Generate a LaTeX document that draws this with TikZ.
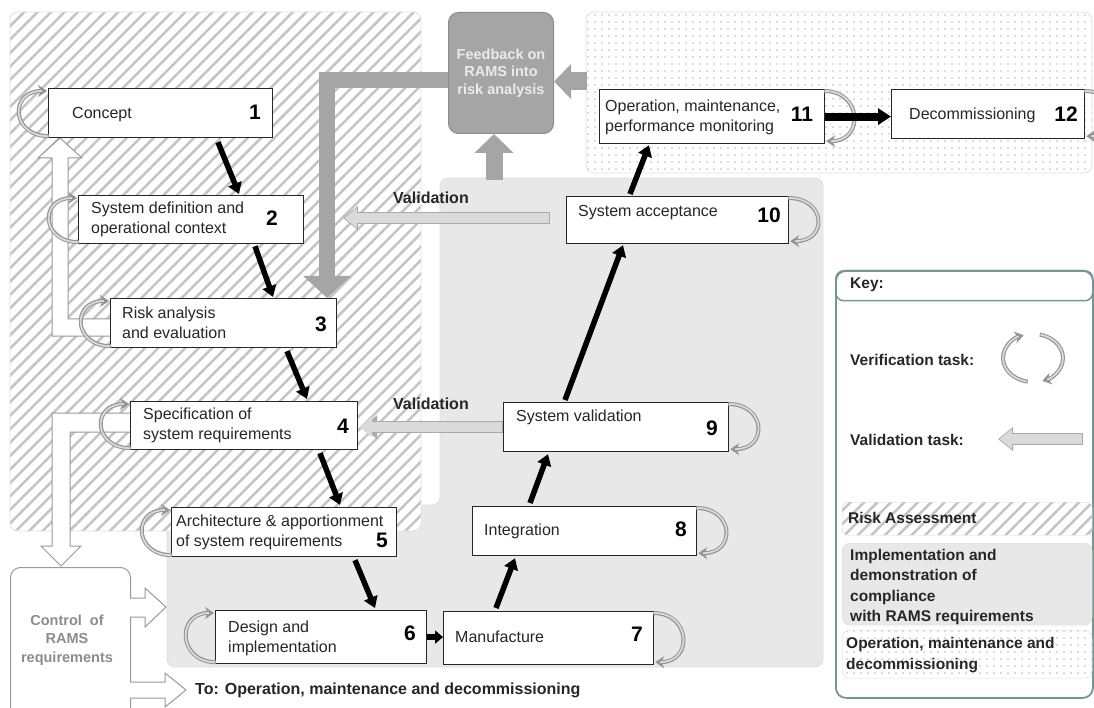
\documentclass[tikz,border=0pt]{standalone}
\usepackage{fontspec}
\setmainfont{Liberation Sans}
\usetikzlibrary{arrows.meta,patterns.meta,calc}
\definecolor{keyc}{RGB}{115,150,150}
\definecolor{fbgrey}{RGB}{165,165,165}
\definecolor{valfill}{RGB}{218,218,218}
\definecolor{valedge}{RGB}{170,170,170}
\definecolor{impgrey}{RGB}{232,232,232}
\definecolor{hatchc}{RGB}{196,196,196}
\definecolor{dotc}{RGB}{185,185,185}
\tikzset{
  box/.style={draw=black!85, line width=1.2pt, fill=white, anchor=north west, inner sep=0pt},
  txt/.style={font=\fontsize{16}{20}\selectfont, text=black!85, align=left, anchor=west, inner sep=0pt},
  num/.style={font=\fontsize{21}{24}\selectfont\bfseries, inner sep=0pt},
  lbl/.style={font=\fontsize{16}{20}\selectfont\bfseries, text=black!85, anchor=west, inner sep=0pt},
  keytxt/.style={font=\fontsize{15.5}{20.5}\selectfont\bfseries, text=black!85, anchor=west, align=left, inner sep=0pt},
  flow/.style={line width=5.5pt, -{Triangle[length=11pt,width=14pt]}},
  verifl/.style={draw=black!42, line width=4pt, -{Stealth[length=9pt,width=12pt]},
    postaction={draw=black!15, line width=1.8pt, -, shorten >=5pt, shorten <=0.8pt}},
  verifr/.style={verifl},
  val/.style={draw=valedge, line width=11.5pt, -{Triangle[length=15pt,width=23pt]},
    postaction={draw=valfill, line width=9.3pt, -{Triangle[length=12.5pt,width=19.5pt]}, shorten >=1.4pt, shorten <=1.1pt}},
  gfb/.style={draw=fbgrey, line width=16pt, -{Triangle[length=22pt,width=46pt]}},
  gfbup/.style={draw=fbgrey, line width=17pt, -{Triangle[length=19pt,width=38pt]}},
  gfbrt/.style={draw=fbgrey, line width=18pt, -{Triangle[length=17pt,width=34pt]}},
  outl/.style={draw=black!40, line width=1pt, fill=white, line join=miter},
  hatch/.style={preaction={fill=white}, pattern={Lines[angle=45,distance=9.5pt,line width=2.5pt]}, pattern color=hatchc},
  dotted region/.style={preaction={fill=white}, pattern={Dots[distance=7pt,radius=0.9pt]}, pattern color=dotc},
}
\begin{document}
\begin{tikzpicture}[x=1pt,y=-1pt]
\useasboundingbox (0,0) rectangle (1094,708);
\clip (0,0) rectangle (1094,708);
\fill[white] (0,0) rectangle (1094,708);

% ---------- regions ----------
\draw[draw=black!12, line width=0.8pt, fill=impgrey, rounded corners=8pt]
  (440,178) -- (823,178) -- (823,667) -- (167,667) -- (167,505) -- (440,505) -- cycle;
\draw[draw=black!12, line width=0.8pt, rounded corners=8pt, hatch] (10,12) rectangle (421,531);
\draw[draw=black!12, line width=0.8pt, rounded corners=8pt, dotted region] (586,12) rectangle (1092,173);

% ---------- feedback box ----------
\node[fill=fbgrey, draw=black!45, line width=1pt, rounded corners=10pt, minimum width=105pt,
  minimum height=121pt, anchor=north west, inner sep=0pt,
  font=\fontsize{14.5}{17.5}\selectfont\bfseries, text=black!8, align=center] (fb) at (448,12)
  {Feedback on\\RAMS into\\risk analysis};

% ---------- white outline arrows ----------
\draw[outl] (110,319) -- (68,319) -- (68,158) -- (82,158) -- (60,138) -- (38,158) -- (52,158) -- (52,336) -- (110,336);
\draw[outl] (130,413) -- (52,413) -- (52,546) -- (41,546) -- (61,566) -- (81,546) -- (70,546) -- (70,432) -- (130,432);

% ---------- control box ----------
\node[draw=black!40, line width=1pt, rounded corners=10pt, fill=white, minimum width=120pt,
  minimum height=165pt, anchor=north west, inner sep=0pt] (ctrl) at (10,567) {};
\node[font=\fontsize{14.5}{18.5}\selectfont\bfseries, text=black!45, align=center, inner sep=0pt] (ctrlt) at (67,640)
  {Control\ \ of\\RAMS\\requirements};
\draw[outl] (130,598) -- (145,598) -- (145,588) -- (166,607) -- (145,627) -- (145,617) -- (130,617);
\draw[outl] (130,682) -- (165,682) -- (165,673) -- (186,690) -- (165,707) -- (165,698) -- (130,698);
\node[lbl] (tolbl) at (195,690) {To: Operation, maintenance and decommissioning};

% ---------- boxes ----------
\node[box, minimum width=224pt, minimum height=49pt] (b1) at (48,88) {};
\node[box, minimum width=225pt, minimum height=48pt] (b2) at (78,195) {};
\node[box, minimum width=226pt, minimum height=49pt] (b3) at (110,298) {};
\node[box, minimum width=227pt, minimum height=48pt] (b4) at (130,401) {};
\node[box, minimum width=225pt, minimum height=49pt] (b5) at (171,507) {};
\node[box, minimum width=211pt, minimum height=53pt] (b6) at (215,610) {};
\node[box, minimum width=210pt, minimum height=53pt] (b7) at (443,611) {};
\node[box, minimum width=224pt, minimum height=49pt] (b8) at (472,506) {};
\node[box, minimum width=225pt, minimum height=49pt] (b9) at (503,402) {};
\node[box, minimum width=222pt, minimum height=47pt] (b10) at (566,196) {};
\node[box, minimum width=225pt, minimum height=54pt] (b11) at (599,89) {};
\node[box, minimum width=193pt, minimum height=49pt] (b12) at (891,89) {};

% ---------- big grey feedback arrows ----------
\draw[gfb] ($(fb.west)+(0,7.5)$) -| ($(b3.north west)+(217,0)$);
\draw[gfbup] ($(fb.south)+(-7,46)$) -- ($(fb.south)+(-7,0)$);
\draw[gfbrt] ($(fb.east)+(33,8.5)$) -- ($(fb.east)+(0,8.5)$);

% ---------- texts ----------
\node[txt] (t1) at (72,115) {Concept};
\node[num] (n1) at (255,112) {1};
\node[txt] (t2) at (91,219) {System definition and\\operational context};
\node[num] (n2) at (272,218) {2};
\node[txt] (t3) at (122,323) {Risk analysis\\and evaluation};
\node[num] (n3) at (321,324) {3};
\node[txt] (t4) at (143,425) {Specification of\\system requirements};
\node[num] (n4) at (343,426) {4};
\node[txt] (t5) at (176,532) {Architecture \& apportionment\\of system requirements};
\node[num] (n5) at (382,540) {5};
\node[txt] (t6) at (228,638) {Design and\\implementation};
\node[num] (n6) at (410,633) {6};
\node[txt] (t7) at (455,637) {Manufacture};
\node[num] (n7) at (637,634) {7};
\node[txt] (t8) at (484,531) {Integration};
\node[num] (n8) at (681,529) {8};
\node[txt] (t9) at (516,417) {System validation};
\node[num] (n9) at (712,428) {9};
\node[txt] (t10) at (578,213) {System acceptance};
\node[num] (n10) at (769,215) {10};
\node[txt] (t11) at (605,117) {Operation, maintenance,\\performance monitoring};
\node[num] (n11) at (802,114) {11};
\node[txt] (t12) at (909,115) {Decommissioning};
\node[num] (n12) at (1066,114) {12};

% ---------- verification loops ----------
\foreach \b in {b1,b2,b3,b4,b5,b6}{
  \draw[verifl] ($(\b.south west)+(1,-2)$) .. controls +(-38,0) and +(-38,0) .. ($(\b.north west)+(-1,3)$);
}
\foreach \b in {b7,b8,b9,b10,b11,b12}{
  \draw[verifr] ($(\b.north east)+(-1,2)$) .. controls +(38,0) and +(38,0) .. ($(\b.south east)+(1,-3)$);
}

% ---------- flow arrows ----------
\draw[flow] ($(b1.south west)+(170,4)$) -- ($(b2.north west)+(161,-1)$);
\draw[flow] ($(b2.south west)+(177,2)$) -- ($(b3.north west)+(163,-1)$);
\draw[flow] ($(b3.south west)+(177,3)$) -- ($(b4.north west)+(177,-2)$);
\draw[flow] ($(b4.south west)+(190,3)$) -- ($(b5.north west)+(169,-2)$);
\draw[flow] ($(b5.south west)+(184,3)$) -- ($(b6.north west)+(160,-2)$);
\draw[line width=5.5pt, -{Triangle[length=8pt,width=13pt]}] (b6.east) -- (b6.east -| b7.west);
\draw[flow] ($(b7.north west)+(53,-3)$) -- ($(b8.south west)+(43,2)$);
\draw[flow] ($(b8.north west)+(58,-3)$) -- ($(b9.south west)+(45,2)$);
\draw[flow] ($(b9.north west)+(62,-2)$) -- ($(b10.south west)+(57,1)$);
\draw[flow] ($(b10.north west)+(64,-2)$) -- ($(b11.south west)+(50,1)$);
\draw[line width=8pt, -{Triangle[length=13pt,width=16pt]}] (b11.east) -- (b11.east -| b12.west);

% ---------- validation arrows ----------
\coordinate (va1) at (550,218);
\coordinate (va1e) at (343,218);
\draw[val] (va1) -- (va1e);
\node[lbl] (vl1) at (393,198) {Validation};
\draw[val, shorten >=4pt] (b9.west) -- (b9.west -| b4.east);
\node[lbl] (vl2) at (393,404) {Validation};

% ---------- key ----------
\node[draw=keyc, line width=1.8pt, rounded corners=10pt, minimum width=257pt, minimum height=427pt,
  anchor=north west, inner sep=0pt] (key) at (835,270) {};
\node[draw=keyc, line width=1.5pt, rounded corners=8pt, minimum width=257pt, minimum height=30pt,
  anchor=north west, inner sep=0pt] (keyh) at (835,270) {};
\node[keytxt] (keyt) at (850,285) {Key:};
\node[keytxt] (kvt) at (850,360) {Verification task:};
\coordinate (kc) at (1033,358);
\draw[verifl] ($(kc)+(100:30 and 24)$) arc[start angle=100, end angle=252, x radius=30, y radius=24];
\draw[verifl] ($(kc)+(283:30 and 24)$) arc[start angle=283, end angle=432, x radius=30, y radius=24];
\node[keytxt] (kvalt) at (850,440) {Validation task:};
\coordinate (kv1) at (1083,439);
\coordinate (kv2) at (998,439);
\draw[val] (kv1) -- (kv2);
\node[draw=black!15, rounded corners=6pt, hatch, minimum width=250pt, minimum height=33pt,
  anchor=north west, inner sep=0pt] (krisk) at (842,502) {};
\node[keytxt] (krt) at (848,518) {Risk Assessment};
\node[draw=black!15, fill=impgrey, rounded corners=8pt, minimum width=250pt, minimum height=82pt,
  anchor=north west, inner sep=0pt] (kimp) at (842,543) {};
\node[keytxt] (kit) at (850,587) {Implementation and\\demonstration of\\compliance\\with RAMS requirements};
\node[draw=black!15, rounded corners=8pt, dotted region, minimum width=250pt, minimum height=48pt,
  anchor=north west, inner sep=0pt] (kop) at (842,630) {};
\node[keytxt] (kot) at (846,655) {Operation, maintenance and\\decommissioning};
\end{tikzpicture}
\end{document}
